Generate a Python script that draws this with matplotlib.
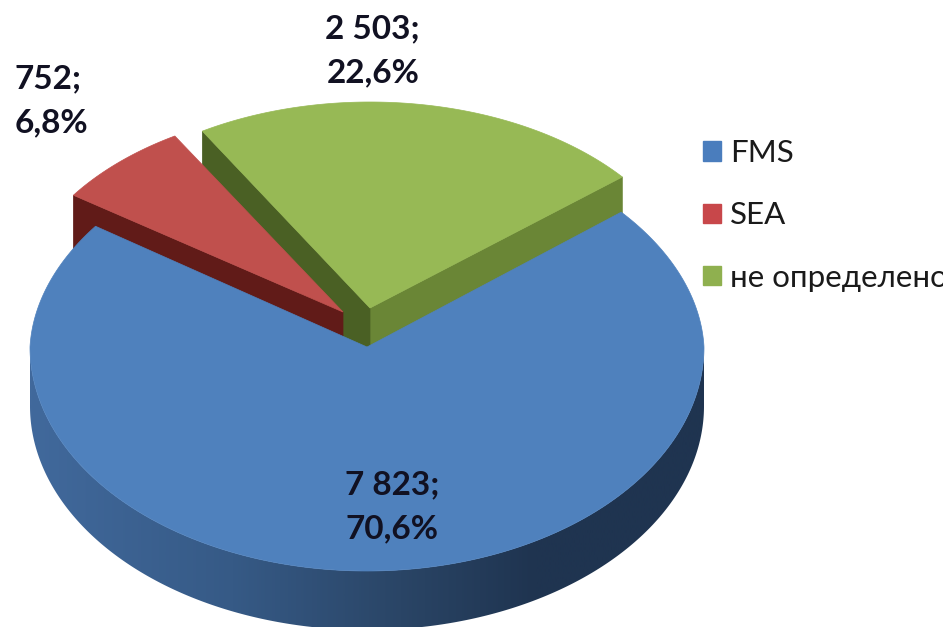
import numpy as np
import matplotlib
matplotlib.use("Agg")
import matplotlib.pyplot as plt
from matplotlib.patches import Polygon, Patch, Rectangle
from matplotlib.colors import LinearSegmentedColormap

categories = ["FMS", "SEA", "не определено"]
values = [7823, 752, 2503]
data_labels = ["7 823;\n70,6%", "752;\n6,8%", "2 503;\n22,6%"]
top_colors = ["#4f81bd", "#c0504d", "#97b955"]

W, H = 949, 627
fig = plt.figure(figsize=(W / 100, H / 100), dpi=100, facecolor="white")
ax = fig.add_axes([0, 0, 1, 1])
ax.set_xlim(0, W)
ax.set_ylim(H, 0)
ax.axis("off")

total = sum(values)
sweep = {c: v / total * 360 for c, v in zip(categories, values)}
g0 = 39.5
g1 = g0 + sweep[categories[2]]
r1 = g1 + sweep[categories[1]]
b1 = r1 + sweep[categories[0]]


def rim(cx, cy, rx, ry, a0, a1, n=240, ry_back=None, k=0.0):
    t = np.radians(np.linspace(a0, a1, n))
    s, c = np.sin(t), np.cos(t)
    rb = ry if ry_back is None else ry_back
    yr = np.where(s > 0, rb, ry)
    f = 1 - k * np.clip(s, 0, None)
    return np.column_stack([cx + rx * c * f, cy - yr * s])


def cut(apex, point, depth, color, z):
    ax.add_patch(Polygon([apex, point, (point[0], point[1] + depth),
                          (apex[0], apex[1] + depth)],
                         closed=True, fc=color, ec=color, lw=0.5, zorder=z))


DEPTH = 59

# green slice (back)
gc = (370, 308)
gr = rim(*gc, 327, 206, g0, g1)
cut(gc, gr[0], DEPTH, "#6a8636", 1)
cut(gc, gr[-1], DEPTH, "#4a6024", 1.1)
ax.add_patch(Polygon(np.vstack([[gc], gr]), closed=True, fc=top_colors[2], ec=top_colors[2], lw=0.5, zorder=1.2))

# red slice
rc = (343, 312)
rr = rim(*rc, 328, 205, g1, r1)
cut(rc, rr[-1], DEPTH, "#611b18", 2)
ax.add_patch(Polygon(np.vstack([[rc], rr]), closed=True, fc=top_colors[1], ec=top_colors[1], lw=0.5, zorder=2.1))

# blue slice
bc = (367, 347)
brx, bry = 337, 224
wall_cmap = LinearSegmentedColormap.from_list(
    "wall", [(0, "#41699c"), (0.3, "#365a86"), (0.55, "#2a4566"), (0.75, "#1f3450"), (1, "#1f3450")])
front = rim(*bc, brx, bry, 180, 360, 360)
wall = np.vstack([front, front[::-1] + [0, DEPTH]])
wall_patch = Polygon(wall, closed=True, fc="none", ec="none", transform=ax.transData)
ax.add_patch(wall_patch)
im = ax.imshow(np.linspace(0, 1, 512)[None, :], cmap=wall_cmap, aspect="auto",
               extent=(bc[0] - brx, bc[0] + brx, H, 0), zorder=3, interpolation="bilinear")
im.set_clip_path(wall_patch)
ax.set_xlim(0, W)
ax.set_ylim(H, 0)
br = rim(*bc, brx, bry, r1, b1, 500, ry_back=212, k=0.035)
ax.add_patch(Polygon(np.vstack([[bc], br]), closed=True, fc=top_colors[0], ec=top_colors[0], lw=0.5, zorder=3.1))

# data labels
font = "Lato"
lab = dict(fontsize=24, fontweight="bold", family=font, color="#111122", linespacing=1.6, zorder=5)
ax.text(439, 507, data_labels[0], ha="right", va="center", **lab)
ax.text(15, 101, data_labels[1], ha="left", va="center", **lab)
ax.text(420, 51, data_labels[2], ha="right", va="center", **lab)

# legend
handles = [Patch(fc=c, ec=c) for c in ["#4a7dbd", "#c8474a", "#8fb04f"]]
leg = ax.legend(handles, categories, loc="upper left", bbox_to_anchor=(703, 139),
                bbox_transform=ax.transData, frameon=False, borderpad=0,
                borderaxespad=0, handlelength=0.58, handleheight=0.58, handletextpad=0.29,
                labelspacing=1.10, prop=dict(family=font, size=22.5))
clip = Rectangle((0, 0), 943, H, transform=ax.transData)
for t in leg.get_texts():
    t.set_color("#1a1a1a")
    t.set_clip_on(True)
    t.set_clip_path(clip)

fig.savefig("out.png", dpi=100, facecolor="white")
